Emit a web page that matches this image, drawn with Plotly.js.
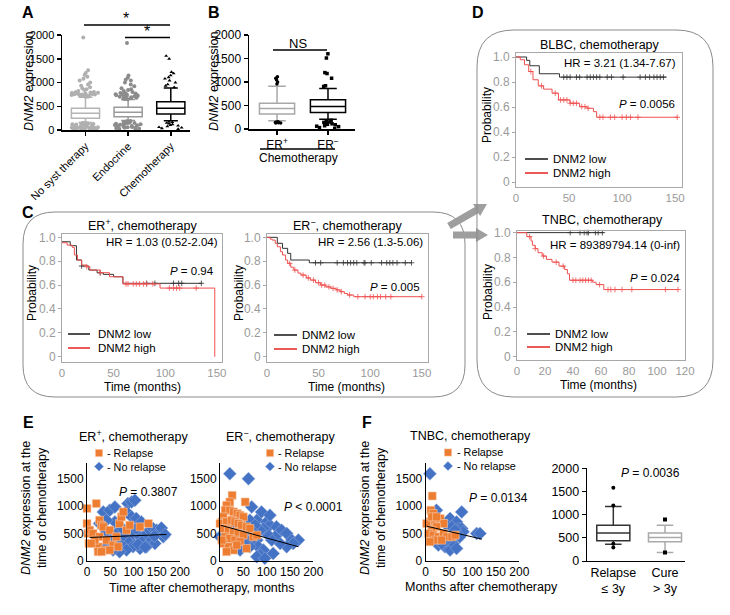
<!DOCTYPE html>
<html><head><meta charset="utf-8">
<script src="https://cdn.plot.ly/plotly-3.0.1.min.js"></script>
<style>html,body{margin:0;padding:0;background:#fff}#chart{width:730px;height:615px}</style>
</head><body><div id="chart"></div>
<script>
// ---------------- DATA ----------------
// Panel A
const catA = ['No syst therapy', 'Endocrine', 'Chemotherapy'];
const q1A = [246, 281, 337];
const medA = [351, 372, 456];
const q3A = [456, 477, 596];
const loA = [160, 200, 196];
const hiA = [690, 640, 884];
const outNoSyst = [10,15,20,25,30,35,40,45,50,55,60,65,70,75,80,90,100,110,120,130,140,150,12,22,32,42,52,62,72,85,95,105,115,125,135,145,
  700,710,720,730,740,750,760,770,780,790,800,705,715,725,735,745,755,765,775,785,795,820,840,860,880,900,930,960,1000,1040,1080,1120,1160,1200,1260,1950];
const outEndo = [20,30,40,50,60,70,80,90,100,110,120,130,140,150,160,170,180,190,25,45,65,85,105,125,145,165,185,
  650,660,670,680,690,700,710,720,730,740,750,760,770,780,800,820,840,860,880,655,675,695,715,735,755,775,920,960,1000,1040,1060,1100,1150,1830];
const outChemo = [20,35,50,60,75,90,105,120,135,150,165,175,900,930,960,1000,1040,1080,1110,1150,1190,1220,1500,1560];
// Panel B
const catB = ['ER<sup>+</sup>', 'ER<sup>−</sup>'];
const q1B = [319, 351], medB = [436, 477], q3B = [550, 624], loB = [177, 210], hiB = [908, 863];
const outErPos = [125,130,135,140,150,155,960,1000,1050,1080,1110];
const outErNeg = [10,30,50,70,90,110,130,150,170,185,60,100,140,905,920,1080,1180,1200,1510,1600];
// Panel C : ER+ chemotherapy KM
const c1LowT = [0, 8, 14, 19, 26, 34, 40, 50, 59, 135];
const c1LowS = [0.963, 0.93, 0.81, 0.76, 0.726, 0.704, 0.69, 0.67, 0.615, 0.615];
const c1LowC = [19, 37, 82, 90, 108, 113, 116, 135];
const c1HighT = [0, 5, 10, 12, 15, 19, 24, 27, 37, 46, 59, 95, 148];
const c1HighS = [0.955, 0.935, 0.916, 0.852, 0.81, 0.768, 0.754, 0.726, 0.704, 0.67, 0.61, 0.575, 0];
const c1HighC = [24, 37, 62, 64, 69, 72, 75, 79, 82, 88, 104, 108, 111, 114, 130];
// Panel C : ER- chemotherapy KM
const c2LowT = [0, 10, 15, 20, 23, 41, 140];
const c2LowS = [1, 0.95, 0.908, 0.866, 0.81, 0.787, 0.787];
const c2LowC = [47, 52, 68, 74, 78, 81, 84, 87, 94, 95, 101, 111, 116, 119, 122, 126, 134, 140];
const c2HighT = [0, 3, 5, 8, 10, 13, 15, 18, 20, 23, 26, 30, 33, 38, 42, 47, 52, 57, 62, 67, 71, 75, 78, 84, 150];
const c2HighS = [1, 0.985, 0.977, 0.95, 0.921, 0.88, 0.852, 0.81, 0.782, 0.75, 0.726, 0.70, 0.684, 0.66, 0.642, 0.62, 0.60, 0.585, 0.573, 0.56, 0.545, 0.53, 0.517, 0.503, 0.503];
const c2HighC = [22, 27, 35, 40, 45, 50, 53, 56, 60, 64, 68, 72, 80, 88, 95, 100, 103, 107, 110, 115, 120, 150];
// Panel D : BLBC
const d1LowT = [0, 10, 13, 22, 41, 142];
const d1LowS = [1, 0.973, 0.93, 0.866, 0.839, 0.839];
const d1LowC = [45, 48, 51, 57, 60, 67, 70, 73, 76, 79, 86, 90, 101, 117, 122, 126, 130, 133, 136, 139];
const d1HighT = [0, 4, 8, 12, 16, 21, 26, 34, 40, 51, 60, 67, 73, 76, 153];
const d1HighS = [1, 0.978, 0.938, 0.884, 0.818, 0.769, 0.743, 0.711, 0.657, 0.63, 0.603, 0.59, 0.563, 0.518, 0.518];
const d1HighC = [14, 24, 37, 42, 45, 48, 51, 54, 57, 62, 65, 68, 79, 82, 89, 93, 100, 104, 108, 115, 152];
// Panel D : TNBC
const d2LowT = [0, 62];
const d2LowS = [1, 1];
const d2LowC = [38, 45, 48, 50, 51, 56, 58, 61];
const d2HighT = [0, 7, 10, 11, 13, 15, 18, 21, 25, 30, 34, 36, 37.5, 54, 56.5, 62, 115];
const d2HighS = [1, 0.968, 0.933, 0.898, 0.871, 0.838, 0.811, 0.784, 0.762, 0.73, 0.703, 0.668, 0.616, 0.6, 0.581, 0.541, 0.541];
const d2HighC = [9, 13, 19, 28, 33, 40, 42, 45, 47, 49, 51, 53, 59, 65, 67, 70, 75, 82, 106, 115];
// Panel E : ER+ scatter
const e1RelT = [0,20,0,2,4,6,13,27,31,35,27,24,24,42,49,56,67,70,74,78,85,92,114,132,63,38,17,9,49,31];
const e1RelV = [960,1050,683,500,317,561,500,744,652,622,439,256,165,378,561,287,256,683,805,896,561,652,622,683,439,195,378,317,195,165];
const e1NoT = [35,49,60,88,96,103,85,96,106,63,70,81,92,99,114,121,128,135,142,150,157,164,139,146,128,114,99,85,70,56,42,49,78,106,117,60,42,27,42,110,125,145,160,168,75];
const e1NoV = [896,927,988,1049,1079,1110,896,805,774,500,378,317,378,500,439,378,500,561,591,561,530,439,378,317,256,226,256,195,165,195,256,378,470,591,713,713,744,683,530,300,250,450,600,480,600];
const e1FitT = [6, 171], e1FitV = [427, 482];
// Panel E : ER- scatter
const e2RelT = [26,21,14,11,21,29,37,43,50,54,7,4,0,14,25,32,39,46,57,64,7,18,29,39,50,71,79,11,21,32,43,7,18,29,57,36,4,14];
const e2RelV = [1201,1079,1018,927,927,896,866,835,805,1079,805,713,683,713,744,713,683,652,622,591,591,561,530,500,470,439,470,439,409,378,348,317,256,195,226,287,378,165];
const e2NoT = [21,61,68,89,79,100,107,121,132,143,154,168,157,143,129,118,111,100,93,86,79,71,82,93,86,79,96,114,64,57,50,43,36,29,64,75,14,0,107,54,71];
const e2NoV = [1598,1506,988,896,744,713,652,622,561,500,378,378,317,256,317,439,378,500,591,561,378,317,256,195,104,73,43,134,256,378,317,195,500,622,744,652,500,439,835,530,530];
const e2FitT = [1, 168], e2FitV = [652, 256];
// Panel F : TNBC scatter
const f1RelT = [14,11,16,9,2,20,31,38,23,13,6,16,27,38,45,56,63,20,9,34,13,23];
const f1RelV = [1189,927,866,713,683,744,774,683,622,561,500,470,439,500,439,439,470,378,348,378,805,805];
const f1NoT = [9,23,77,52,66,45,56,70,77,80,63,109,116,27,41,52,59,66,45,34,73];
const f1NoV = [1598,927,896,774,713,652,622,591,591,530,561,500,500,287,256,195,317,226,378,317,439];
const f1FitT = [2, 120], f1FitV = [634, 396];
// Panel F : box plot
const catF = ['Relapse<br>≤ 3y', 'Cure<br>> 3y'];
const q1F = [435, 414], medF = [606, 507], q3F = [771, 606], loF = [364, 186], hiF = [1178, 771];
const outRelapse = [1578, 1195, 370, 293];
const outCure = [893, 186];

// ---------------- HELPERS ----------------
const FONT = 'Liberation Sans, Arial, Helvetica, sans-serif';
const W = 730, H = 615;
const px = x => x / W, py = y => 1 - y / H;
const traces = [], shapes = [], annotations = [];
const layout = {width: W, height: H, margin: {l:0, r:0, t:0, b:0}, showlegend: false,
  paper_bgcolor: '#fff', plot_bgcolor: 'rgba(0,0,0,0)', boxmode: 'overlay',
  font: {family: FONT, color: '#000'}};

function T(text, x, y, size, o) {
  o = o || {};
  const color = o.color || '#000';
  const a = Object.assign({text: text, x: px(x), y: py(y), xref: 'paper', yref: 'paper',
    showarrow: false, xanchor: 'center', yanchor: 'middle'}, o);
  delete a.color;
  a.font = {family: FONT, size: size, color: color};
  annotations.push(a);
}
function L(x0, y0, x1, y1, color, width) {
  shapes.push({type: 'line', xref: 'paper', yref: 'paper', x0: px(x0), y0: py(y0), x1: px(x1), y1: py(y1), line: {color: color, width: width}});
}
function P(x, y) { return px(x).toFixed(5) + ',' + py(y).toFixed(5); }
function roundRect(x0, y0, x1, y1, r) {
  const p = 'M' + P(x0 + r, y0) + ' L' + P(x1 - r, y0) + ' Q' + P(x1, y0) + ' ' + P(x1, y0 + r) +
    ' L' + P(x1, y1 - r) + ' Q' + P(x1, y1) + ' ' + P(x1 - r, y1) + ' L' + P(x0 + r, y1) +
    ' Q' + P(x0, y1) + ' ' + P(x0, y1 - r) + ' L' + P(x0, y0 + r) + ' Q' + P(x0, y0) + ' ' + P(x0 + r, y0) + ' Z';
  shapes.push({type: 'path', xref: 'paper', yref: 'paper', path: p, line: {color: '#8a8a8a', width: 1}});
}
function arrow(xs, ys, xe, ye) {
  const dx = xe - xs, dy = ye - ys, len = Math.hypot(dx, dy);
  const ux = dx / len, uy = dy / len, nx = -uy, ny = ux;
  const sh = 3.6, hh = 7, hl = 12;
  const bx = xe - ux * hl, by = ye - uy * hl;
  const pts = [[xs + nx*sh, ys + ny*sh], [bx + nx*sh, by + ny*sh], [bx + nx*hh, by + ny*hh], [xe, ye],
    [bx - nx*hh, by - ny*hh], [bx - nx*sh, by - ny*sh], [xs - nx*sh, ys - ny*sh]];
  const p = 'M' + pts.map(q => P(q[0], q[1])).join(' L') + ' Z';
  shapes.push({type: 'path', xref: 'paper', yref: 'paper', path: p, fillcolor: '#9e9e9e', line: {width: 0}});
}
function dom(l, r, t, b) { return {x: [px(l), px(r)], y: [py(b), py(t)]}; }
function axKey(n, a) { return a + 'axis' + (n === 1 ? '' : n); }
function axRef(n, a) { return a + (n === 1 ? '' : n); }

function prismAxes(n, d, xrange, yrange, lw) {
  const common = {showline: true, linecolor: '#000', linewidth: lw, ticks: 'outside', ticklen: 4, tickwidth: lw,
    tickcolor: '#000', showgrid: false, zeroline: false, fixedrange: true,
    tickfont: {family: FONT, size: 11.5, color: '#000'}};
  layout[axKey(n, 'x')] = Object.assign({}, common, {domain: d.x, range: xrange, anchor: axRef(n, 'y'), type: 'category'});
  layout[axKey(n, 'y')] = Object.assign({}, common, {domain: d.y, range: yrange, anchor: axRef(n, 'x'),
    tickvals: [0, 500, 1000, 1500, 2000]});
}
function kmAxes(n, d, xrange, xticks, yrange) {
  const common = {showline: true, mirror: true, linecolor: '#a8a8a8', linewidth: 1, ticks: 'outside', ticklen: 3,
    tickcolor: '#a8a8a8', showgrid: false, zeroline: false, fixedrange: true,
    tickfont: {family: FONT, size: 12, color: '#9a9a9a'}};
  layout[axKey(n, 'x')] = Object.assign({}, common, {domain: d.x, range: xrange, anchor: axRef(n, 'y'), tickvals: xticks,
    ticks: '', tickfont: {family: FONT, size: 11.5, color: '#9a9a9a'}});
  layout[axKey(n, 'y')] = Object.assign({}, common, {domain: d.y, range: yrange, anchor: axRef(n, 'x'),
    tickvals: [0, 0.2, 0.4, 0.6, 0.8, 1.0], ticktext: ['0', '0.2', '0.4', '0.6', '0.8', '1.0']});
}
function excelAxes(n, d) {
  const common = {showline: true, linecolor: '#000', linewidth: 1, ticks: '', showgrid: false, zeroline: false,
    fixedrange: true, tickfont: {family: FONT, size: 12, color: '#000'}};
  layout[axKey(n, 'x')] = Object.assign({}, common, {domain: d.x, range: [0, 200], anchor: axRef(n, 'y'), tickvals: [0, 50, 100, 150, 200]});
  layout[axKey(n, 'y')] = Object.assign({}, common, {domain: d.y, range: [0, 1800], anchor: axRef(n, 'x'), tickvals: [0, 500, 1000, 1500]});
}

function statBox(n, cat, q1, med, q3, lo, hi, color, width) {
  traces.push({type: 'box', xaxis: axRef(n, 'x'), yaxis: axRef(n, 'y'), x: [cat], q1: [q1], median: [med], q3: [q3],
    lowerfence: [lo], upperfence: [hi], boxpoints: false, fillcolor: '#fff', line: {color: color, width: 1.5},
    width: width, whiskerwidth: 0.5, hoverinfo: 'skip'});
}
function pointBox(n, cat, vals, color, size, symbol, width, jitter) {
  traces.push({type: 'box', xaxis: axRef(n, 'x'), yaxis: axRef(n, 'y'), x: vals.map(() => cat), y: vals,
    boxpoints: 'all', jitter: jitter, pointpos: 0, fillcolor: 'rgba(0,0,0,0)',
    line: {color: 'rgba(0,0,0,0)', width: 0}, marker: {color: color, size: size, symbol: symbol},
    width: width, whiskerwidth: 0, hoverinfo: 'skip'});
}
function survAt(Ts, Ss, t) { let v = Ss[0]; for (let i = 0; i < Ts.length; i++) if (Ts[i] <= t) v = Ss[i]; return v; }
function km(n, Ts, Ss, Cs, color) {
  traces.push({type: 'scatter', mode: 'lines', xaxis: axRef(n, 'x'), yaxis: axRef(n, 'y'), x: Ts, y: Ss,
    line: {shape: 'hv', color: color, width: 1}, hoverinfo: 'skip', cliponaxis: false});
  traces.push({type: 'scatter', mode: 'markers', xaxis: axRef(n, 'x'), yaxis: axRef(n, 'y'), x: Cs,
    y: Cs.map(c => survAt(Ts, Ss, c)), marker: {symbol: 'cross-thin', size: 4, color: color, line: {width: 0.8, color: color}},
    hoverinfo: 'skip', cliponaxis: false});
}
const ORANGE = '#ED7D31', BLUE = '#4472C4';
function scat(n, relT, relV, noT, noV, fitT, fitV) {
  traces.push({type: 'scatter', mode: 'markers', xaxis: axRef(n, 'x'), yaxis: axRef(n, 'y'), x: noT, y: noV,
    marker: {symbol: 'diamond', size: 10, color: BLUE, line: {color: '#8faadc', width: 0.6}}, hoverinfo: 'skip', cliponaxis: false});
  traces.push({type: 'scatter', mode: 'markers', xaxis: axRef(n, 'x'), yaxis: axRef(n, 'y'), x: relT, y: relV,
    marker: {symbol: 'square', size: 8, color: ORANGE, line: {color: '#f8cbad', width: 0.6}}, hoverinfo: 'skip', cliponaxis: false});
  traces.push({type: 'scatter', mode: 'lines', xaxis: axRef(n, 'x'), yaxis: axRef(n, 'y'), x: fitT, y: fitV,
    line: {color: '#000', width: 1}, hoverinfo: 'skip'});
}
function kmLegend(x0, x1, yLow, yHigh, tx) {
  L(x0, yLow, x1, yLow, '#222', 1.6);
  L(x0, yHigh, x1, yHigh, '#e8302c', 1.6);
  T('DNM2 low', tx, yLow, 11.5, {xanchor: 'left'});
  T('DNM2 high', tx, yHigh, 11.5, {xanchor: 'left'});
}
function scatLegend(mx, y1, y2, tx) {
  shapes.push({type: 'rect', xref: 'paper', yref: 'paper', x0: px(mx - 3.6), x1: px(mx + 3.6), y0: py(y1 + 3.6), y1: py(y1 - 3.6),
    fillcolor: ORANGE, line: {color: '#f8cbad', width: 0.5}});
  const s = 4.6;
  shapes.push({type: 'path', xref: 'paper', yref: 'paper',
    path: 'M' + P(mx, y2 - s) + ' L' + P(mx + s, y2) + ' L' + P(mx, y2 + s) + ' L' + P(mx - s, y2) + ' Z',
    fillcolor: BLUE, line: {color: '#8faadc', width: 0.5}});
  T('- Relapse', tx, y1, 10.8, {xanchor: 'left'});
  T('- No relapse', tx, y2, 10.8, {xanchor: 'left'});
}

// ---------------- PANEL A ----------------
prismAxes(1, dom(62, 190, 35, 130), [-0.55, 2.45], [0, 2000], 1.5);
layout.xaxis.tickangle = -45;
layout.xaxis.tickfont.size = 11;
statBox(1, catA[0], q1A[0], medA[0], q3A[0], loA[0], hiA[0], '#b4b4b4', 0.66);
statBox(1, catA[1], q1A[1], medA[1], q3A[1], loA[1], hiA[1], '#9a9a9a', 0.66);
statBox(1, catA[2], q1A[2], medA[2], q3A[2], loA[2], hiA[2], '#000', 0.66);
pointBox(1, catA[0], outNoSyst, '#b0b0b0', 4, 'circle', 0.66, 1);
pointBox(1, catA[1], outEndo, '#8c8c8c', 4, 'circle', 0.66, 1);
pointBox(1, catA[2], outChemo, '#000', 3.5, 'triangle-up', 0.66, 1);
T('<i>DNM2</i> expression', 29, 82, 12.5, {textangle: -90});
L(84, 25, 170, 25, '#000', 1.5);
T('*', 126, 23, 16, {yanchor: 'bottom', yshift: -6});
L(125, 37.5, 170, 37.5, '#000', 1.5);
T('*', 147, 35.5, 16, {yanchor: 'bottom', yshift: -6});
T('<b>A</b>', 28, 13, 16);

// ---------------- PANEL B ----------------
prismAxes(2, dom(249, 355, 35, 129), [-0.55, 1.53], [0, 2000], 1.5);
layout.xaxis2.tickfont.size = 12;
statBox(2, catB[0], q1B[0], medB[0], q3B[0], loB[0], hiB[0], '#a8a8a8', 0.69);
statBox(2, catB[1], q1B[1], medB[1], q3B[1], loB[1], hiB[1], '#000', 0.69);
pointBox(2, catB[0], outErPos, '#000', 3.5, 'circle', 0.69, 0.4);
pointBox(2, catB[1], outErNeg, '#000', 3.5, 'square', 0.69, 0.8);
T('<i>DNM2</i> expression', 214, 82, 12.5, {textangle: -90});
L(273, 50, 327, 50, '#000', 1.5);
T('NS', 298, 43, 13);
L(260, 149, 335, 149, '#000', 1.5);
T('Chemotherapy', 298, 158, 12);
T('<b>B</b>', 214, 13, 16);

// ---------------- PANEL C ----------------
roundRect(23, 212, 465, 397, 32);
T('<b>C</b>', 28, 212, 16);
kmAxes(3, dom(62, 222, 234, 362), [0, 155], [0, 50, 100, 150], [-0.044, 1.028]);
km(3, c1LowT, c1LowS, c1LowC, '#333');
km(3, c1HighT, c1HighS, c1HighC, '#f05050');
T('ER<sup>+</sup>, chemotherapy', 142, 225, 12.5);
T('HR = 1.03 (0.52-2.04)', 220, 242, 11.5, {xanchor: 'right'});
T('<i>P</i> = 0.94', 216, 271, 11.5, {xanchor: 'right'});
kmLegend(68, 90, 334, 348, 96);
T('Probability', 32, 293, 12, {textangle: -90});
T('Time (months)', 142, 387, 12);

kmAxes(4, dom(267, 428, 234, 362), [0, 156], [0, 50, 100, 150], [-0.044, 1.028]);
km(4, c2LowT, c2LowS, c2LowC, '#333');
km(4, c2HighT, c2HighS, c2HighC, '#f05050');
T('ER<sup>−</sup>, chemotherapy', 347, 225, 12.5);
T('HR = 2.56 (1.3-5.06)', 425, 242, 11.5, {xanchor: 'right'});
T('<i>P</i> = 0.005', 422, 287, 11.5, {xanchor: 'right'});
kmLegend(274, 297, 335, 349, 300);
T('Probability', 239, 293, 12, {textangle: -90});
T('Time (months)', 346, 387, 12);

// arrows C -> D
arrow(449, 226, 487, 204);
arrow(453, 235, 488, 235);

// ---------------- PANEL D ----------------
roundRect(477, 30, 713, 397, 37);
T('<b>D</b>', 478, 12, 16);
kmAxes(5, dom(516, 682, 53, 187), [0, 156.5], [0, 50, 100, 150], [-0.04, 1.032]);
km(5, d1LowT, d1LowS, d1LowC, '#333');
km(5, d1HighT, d1HighS, d1HighC, '#f05050');
T('BLBC, chemotherapy', 600, 45, 12.5);
T('HR = 3.21 (1.34-7.67)', 678, 63, 11.5, {xanchor: 'right'});
T('<i>P</i> = 0.0056', 677, 104, 11.5, {xanchor: 'right'});
kmLegend(525, 548, 159, 173, 551);
T('Probability', 487, 115, 12, {textangle: -90});

kmAxes(6, dom(517, 685, 231, 360), [0, 120], [0, 20, 40, 60, 80, 100, 120], [-0.027, 1.013]);
km(6, d2LowT, d2LowS, d2LowC, '#333');
km(6, d2HighT, d2HighS, d2HighC, '#f05050');
T('TNBC, chemotherapy', 602, 220, 12.5);
T('HR = 89389794.14 (0-inf)', 682, 245, 11.5, {xanchor: 'right'});
T('<i>P</i> = 0.024', 682, 278, 11.5, {xanchor: 'right'});
kmLegend(527, 550, 334, 347, 553);
T('Probability', 488, 292, 12, {textangle: -90});
T('Time (months)', 598, 385, 12);

// ---------------- PANEL E ----------------
T('<b>E</b>', 28, 423, 16);
excelAxes(7, dom(87, 180, 462.7, 560.7));
scat(7, e1RelT, e1RelV, e1NoT, e1NoV, e1FitT, e1FitV);
T('ER<sup>+</sup>, chemotherapy', 133, 436, 12.5);
scatLegend(99, 453, 466.5, 105);
T('<i>P</i> = 0.3807', 117, 492, 12, {xanchor: 'left'});
T('<i>DNM2</i> expression at the<br>time of chemotherapy', 34, 508, 12.5, {textangle: -90});

excelAxes(8, dom(220, 313.3, 462.7, 560.7));
scat(8, e2RelT, e2RelV, e2NoT, e2NoV, e2FitT, e2FitV);
T('ER<sup>−</sup>, chemotherapy', 280, 436, 12.5);
scatLegend(270, 453, 466.5, 276);
T('<i>P</i> < 0.0001', 282, 507, 12, {xanchor: 'left'});
T('Time after chemotherapy, months', 202, 588, 12.5);

// ---------------- PANEL F ----------------
T('<b>F</b>', 367, 423, 16);
excelAxes(9, dom(425.7, 519.3, 462.7, 560.7));
scat(9, f1RelT, f1RelV, f1NoT, f1NoV, f1FitT, f1FitV);
T('TNBC, chemotherapy', 470, 436, 12.5);
scatLegend(448, 452.5, 466, 455);
T('<i>P</i> = 0.0134', 467, 498, 12, {xanchor: 'left'});
T('<i>DNM2</i> expression at the<br>time of chemotherapy', 373, 508, 12.5, {textangle: -90});
T('Months after chemotherapy', 481, 587, 12.5);

prismAxes(10, dom(586.7, 685, 468.3, 561), [-0.515, 1.387], [0, 2000], 1);
layout.xaxis10.tickfont.size = 12.5;
layout.xaxis10.ticks = '';
statBox(10, catF[0], q1F[0], medF[0], q3F[0], loF[0], hiF[0], '#333', 0.64);
statBox(10, catF[1], q1F[1], medF[1], q3F[1], loF[1], hiF[1], '#aaa', 0.64);
pointBox(10, catF[0], outRelapse, '#000', 4, 'circle', 0.64, 0);
pointBox(10, catF[1], outCure, '#000', 4, 'square', 0.64, 0);
T('<i>P</i> = 0.0036', 650, 473, 12);

layout.shapes = shapes;
layout.annotations = annotations;
Plotly.newPlot('chart', traces, layout, {staticPlot: true, displayModeBar: false});
</script></body></html>
